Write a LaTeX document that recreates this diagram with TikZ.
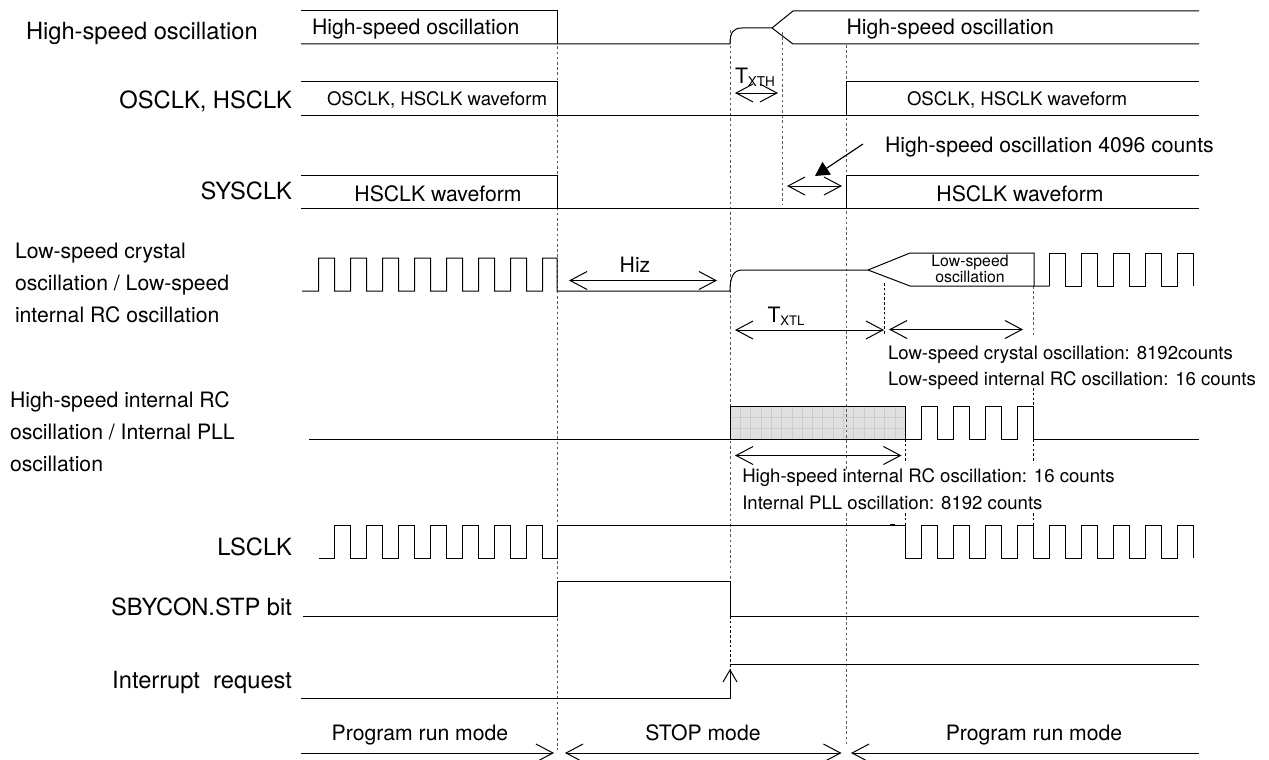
\documentclass[tikz,border=0pt]{standalone}
\usepackage{fontspec}
\setmainfont{TeX Gyre Heros}
\usetikzlibrary{arrows.meta}
\newcommand{\fsz}[1]{\fontsize{#1}{#1}\selectfont}
\definecolor{dashgray}{gray}{0.35}
\definecolor{blockfill}{gray}{0.88}
\definecolor{blockline}{gray}{0.80}
\tikzset{
  wave/.style={line width=1pt,line join=miter},
  guide/.style={line width=0.9pt,dashgray,dash pattern=on 2.6pt off 2.6pt},
  guidedark/.style={line width=0.7pt,black,dash pattern=on 2.6pt off 2.2pt},
  span/.style={line width=1pt,{Straight Barb[length=17pt,width=18pt,line width=1pt]}-{Straight Barb[length=17pt,width=18pt,line width=1pt]}},
  spanL/.style={line width=1pt,{Straight Barb[length=17pt,width=18pt,line width=1pt]}-},
  spanR/.style={line width=1pt,-{Straight Barb[length=17pt,width=18pt,line width=1pt]}},
  txt/.style={inner sep=0pt,outer sep=0pt,anchor=base west},
  txtr/.style={inner sep=0pt,outer sep=0pt,anchor=base east},
  txtc/.style={inner sep=0pt,outer sep=0pt,anchor=base},
  big/.style={font=\fsz{23.7}},
  side/.style={font=\fsz{21.2}},
  mid/.style={font=\fsz{21.2}},
  small/.style={font=\fsz{18.6}},
  tiny/.style={font=\fsz{15.8}},
}
\begin{document}
\begin{tikzpicture}[x=1pt,y=-1pt]
\useasboundingbox (0,0) rectangle (1269,760);

% shaded block
\fill[blockfill] (730,406) rectangle (905.5,439);
\begin{scope}
\clip (730,406) rectangle (905.5,439);
\foreach \k in {1,...,16} \draw[blockline,line width=0.6pt] ({730+10.3*\k},406) -- ({730+10.3*\k},439);
\foreach \k in {1,2} \draw[blockline,line width=0.6pt] (730,{406+11*\k}) -- (905.5,{406+11*\k});
\end{scope}

% guides
\draw[guide] (557,10) -- (557,750);
\draw[guide] (730,30) -- (730,616);
\draw[guidedark] (730,616) -- (730,669);
\draw[guide] (782.7,32) -- (782.7,205);
\draw[guide] (846,45) -- (846,470);
\draw[guide] (846,513) -- (846,745);
\draw[guidedark] (884.5,283) -- (884.5,335);
\draw[guide] (1033.5,286) -- (1033.5,338);
\draw[guidedark] (1033.5,388) -- (1033.5,406);
\draw[guidedark] (905.5,439) -- (905.5,463);
\draw[guidedark] (1033.5,439) -- (1033.5,463);
\draw[guidedark] (905.5,513) -- (905.5,525);
\draw[guidedark] (1033.5,513) -- (1033.5,525);

% High-speed oscillation
\draw[wave] (301,11) -- (557,11) -- (557,44);
\draw[wave] (301,44) -- (730,44) .. controls (730,33) and (733,28) .. (742,28) -- (772,28) -- (793,11) -- (1199,11);
\draw[wave] (772,28) -- (793,44) -- (1199,44);

% OSCLK, HSCLK
\draw[wave] (301,82) -- (557,82) -- (557,115);
\draw[wave] (301,115) -- (1199,115);
\draw[wave] (846,115) -- (846,82) -- (1199,82);

% SYSCLK
\draw[wave] (301,175) -- (557,175) -- (557,208);
\draw[wave] (301,208) -- (1199,208);
\draw[wave] (846,208) -- (846,175) -- (1199,175);

% Low-speed oscillation
\draw[wave] (302,291) foreach \k in {0,...,6} { -- ({318.5+32*\k},291) -- ({318.5+32*\k},258) -- ({334.5+32*\k},258) -- ({334.5+32*\k},291) }
  -- (542.5,291) -- (542.5,258) -- (557,258) -- (557,291) -- (730,291) .. controls (730,278) and (733,270) .. (742,270) -- (868,270) -- (910,253) -- (1034,253) -- (1034,286);
\draw[wave] (868,270) -- (910,286) -- (1049.5,286);
\draw[wave] (1049.5,286) foreach \k in {0,...,4} { -- ({1049.5+32*\k},253) -- ({1065.5+32*\k},253) -- ({1065.5+32*\k},286) \ifnum\k<4 -- ({1081.5+32*\k},286) \fi };

% High-speed internal RC
\draw[wave] (309,439) -- (730,439) -- (730,406) -- (905.5,406) -- (905.5,439) -- (921.5,439)
  foreach \k in {0,...,3} { -- ({921.5+32*\k},406) -- ({937.5+32*\k},406) -- ({937.5+32*\k},439) \ifnum\k<3 -- ({953.5+32*\k},439) \fi } -- (1199,439);
\draw[wave] (730,439) -- (905.5,439);

% LSCLK
\draw[wave] (318.5,558) foreach \k in {0,...,6} { -- ({334.5+32*\k},558) -- ({334.5+32*\k},525) -- ({350.5+32*\k},525) -- ({350.5+32*\k},558) } -- (557,558) -- (557,525) -- (905.5,525) -- (905.5,558) -- (921.5,558)
  foreach \k in {0,...,8} { -- ({921.5+32*\k},525) -- ({937.5+32*\k},525) -- ({937.5+32*\k},558) \ifnum\k<8 -- ({953.5+32*\k},558) \fi };
\draw[line width=1.2pt] (890,524.6) -- (895,524.6);

% SBYCON.STP
\draw[wave] (303,616) -- (557,616) -- (557,581) -- (730,581) -- (730,616) -- (1199,616);

% Interrupt request
\draw[wave,-{Straight Barb[length=12pt,width=14pt,line width=1pt]}] (301,698) -- (730,698) -- (730,669);
\draw[wave] (730,664.5) -- (1199,664.5);

% spans
\coordinate (hizL) at (569,280.5); \coordinate (hizR) at (717,280.5);
\draw[span] (hizL) -- (hizR);
\coordinate (txthL) at (735,93); \coordinate (txthR) at (778,93);
\draw[span] (txthL) -- (txthR);
\coordinate (cntL) at (787,186); \coordinate (cntR) at (842,186);
\draw[span] (cntL) -- (cntR);
\coordinate (txtlL) at (735,330); \coordinate (txtlR) at (884,330);
\draw[span] (txtlL) -- (txtlR);
\coordinate (lsL) at (889,329.5); \coordinate (lsR) at (1023,329.5);
\draw[span] (lsL) -- (lsR);
\coordinate (hsL) at (735,455.5); \coordinate (hsR) at (901.5,455.5);
\draw[span] (hsL) -- (hsR);
\coordinate (runAL) at (301,753); \coordinate (runAR) at (554,753);
\draw[spanR] (runAL) -- (runAR);
\coordinate (stopL) at (565,753); \coordinate (stopR) at (841.5,753);
\draw[span] (stopL) -- (stopR);
\coordinate (runBL) at (851,753); \coordinate (runBR) at (1199,753);
\draw[spanL] (runBL) -- (runBR);
\coordinate (pA) at (863,144); \coordinate (pB) at (815,176);
\draw[line width=1.2pt,-{Triangle[length=14pt,width=15pt]}] (pA) -- (pB);

% left labels
\node[txt,big] (l1) at (26,40) {High-speed oscillation};
\node[txtr,big] (l2) at (292,108) {OSCLK, HSCLK};
\node[txtr,big] (l3) at (292,199.5) {SYSCLK};
\node[txt,side] (l4a) at (15,258) {Low-speed crystal};
\node[txt,side] (l4b) at (15,290) {oscillation / Low-speed};
\node[txt,side] (l4c) at (15,322) {internal RC oscillation};
\node[txt,side] (l5a) at (10,407) {High-speed internal RC};
\node[txt,side] (l5b) at (10,439) {oscillation / Internal PLL};
\node[txt,side] (l5c) at (10,471) {oscillation};
\node[txtr,big] (l6) at (292,555.7) {LSCLK};
\node[txtr,big] (l7) at (292,615) {SBYCON.STP bit};
\node[txtr,big] (l8) at (292,688) {Interrupt\ \ request};

% waveform labels
\node[txt,mid] (w1) at (312,35) {High-speed oscillation};
\node[txt,mid] (w2) at (846.5,35) {High-speed oscillation};
\node[txtc,small] (w3) at (437,106) {OSCLK, HSCLK waveform};
\node[txtc,small] (w4) at (1017,106) {OSCLK, HSCLK waveform};
\node[txtc,mid] (w5) at (438,201) {HSCLK waveform};
\node[txtc,mid] (w6) at (1020,201) {HSCLK waveform};
\node[txt,mid] (n1) at (885,152.7) {High-speed oscillation 4096 counts};
\node[txtc,mid] (hiz) at (635,272) {Hiz};
\node[txtc,tiny] (n2a) at (970,266.7) {Low-speed};
\node[txtc,tiny] (n2b) at (970,282.7) {oscillation};
\node[txt,small] (n3a) at (888,359) {Low-speed crystal oscillation: 8192counts};
\node[txt,small] (n3b) at (888,385) {Low-speed internal RC oscillation: 16 counts};
\node[txt,small] (n4a) at (742.3,482) {High-speed internal RC oscillation: 16 counts};
\node[txt,small] (n4b) at (742.3,509) {Internal PLL oscillation: 8192 counts};
\node[txt,mid] (t1) at (735,83) {T\raisebox{-3pt}{\fsz{13.5}XTH}};
\node[txt,mid] (t2) at (767.5,322.7) {T\raisebox{-3pt}{\fsz{13.1}XTL}};
\node[txtc,mid] (m1) at (420,740) {Program run mode};
\node[txtc,mid] (m2) at (703,740) {STOP mode};
\node[txtc,mid] (m3) at (1034,740) {Program run mode};
\end{tikzpicture}
\end{document}
